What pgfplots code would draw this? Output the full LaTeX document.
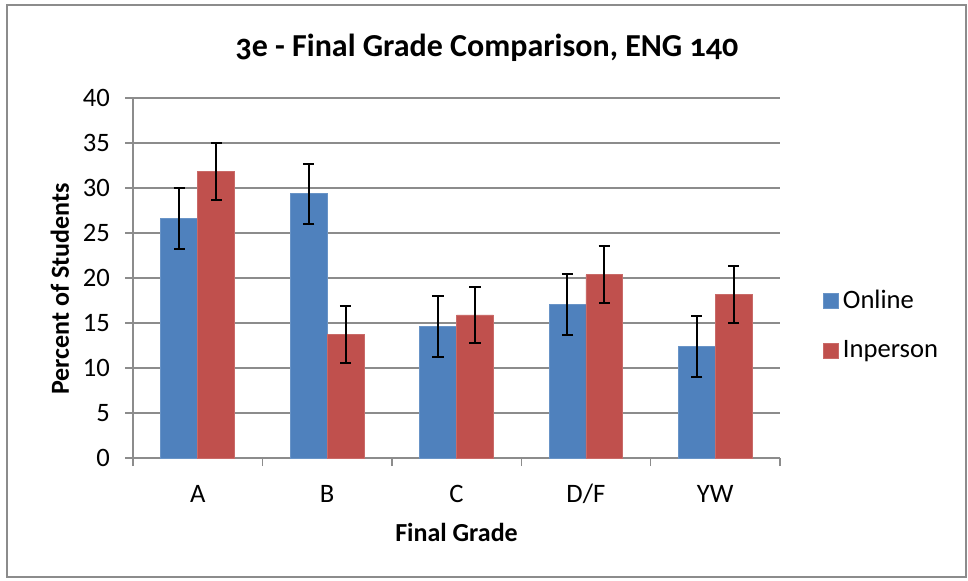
\documentclass[border=0pt]{standalone}
\usepackage{fontspec}
\setmainfont{Carlito}
\usepackage{pgfplots}
\usepackage{pgfplotstable}
\pgfplotsset{compat=1.18}
\definecolor{onl}{HTML}{4F81BD}
\definecolor{inp}{HTML}{C0504D}
\definecolor{gridc}{HTML}{8C8C8C}
\pgfplotstableread{
xo xi on onerr in inerr
-0.1425 0.1425 26.6 3.37 31.8 3.18
0.8575 1.1425 29.35 3.35 13.7 3.15
1.8575 2.1425 14.65 3.39 15.9 3.15
2.8575 3.1425 17.05 3.37 20.35 3.17
3.8575 4.1425 12.35 3.39 18.15 3.15
}\data
\begin{document}
\begin{tikzpicture}
\path (0,0) rectangle (484pt,290pt);
\draw[gridc, line width=0.6pt] (3.5pt,1.5pt) rectangle (483pt,287.5pt);
\begin{axis}[
  at={(66.5pt,61pt)}, anchor=south west,
  scale only axis, width=323.5pt, height=180pt,
  xmin=-0.5, xmax=4.5, ymin=0, ymax=40,
  axis x line*=bottom, axis y line*=left,
  axis line style={gridc, line width=0.7pt, -},
  xtick={0,1,2,3,4},
  xticklabels={A,B,C,D/F,YW},
  major x tick style={draw=none},
  minor xtick={-0.5,0.5,1.5,2.5,3.5,4.5},
  minor x tick style={gridc, line width=0.7pt},
  minor tick length=4pt,
  ytick={0,5,...,40},
  major y tick style={gridc, line width=0.7pt},
  major tick length=4pt,
  tick align=outside,
  ymajorgrids, grid style={gridc, line width=0.7pt},
  /pgf/number format/assume math mode=true,
  ticklabel style={font=\fontsize{13.3}{15}\selectfont},
  yticklabel style={xshift=-4pt},
  xticklabel style={anchor=base, yshift=-18pt},
  title={\textbf{\addfontfeatures{Numbers=OldStyle}3e - Final Grade Comparison, ENG 140}},
  title style={font=\fontsize{16}{19}\selectfont, at={(axis description cs:0.547,1.106)}, anchor=center},
  xlabel={\textbf{Final Grade}},
  xlabel style={font=\fontsize{13}{15}\selectfont, at={(axis description cs:0.5,-0.208)}, anchor=center},
  ylabel={\textbf{Percent of Students}},
  ylabel style={font=\fontsize{13}{15}\selectfont, at={(axis description cs:-0.113,0.47)}, anchor=center},
  legend style={draw=none, fill=none, at={(axis description cs:1.066,0.478)}, anchor=north west,
    font=\fontsize{13.3}{15}\selectfont, row sep=10.5pt, inner sep=0pt},
  legend cell align=left,
  legend image code/.code={\fill[#1] (0pt,-3.75pt) rectangle (7.5pt,3.75pt);},
  error bars/error bar style={black, line width=1pt},
  error bars/error mark options={black, rotate=90, mark size=2.8pt, line width=1pt},
]
\addplot[ybar, bar width=0.285, bar shift=0, fill=onl, draw=onl!85!white,
  error bars/.cd, y dir=both, y explicit]
  table[x=xo, y=on, y error=onerr] {\data};
\addlegendentry{Online}
\addplot[ybar, bar width=0.285, bar shift=0, fill=inp, draw=inp!85!white,
  error bars/.cd, y dir=both, y explicit]
  table[x=xi, y=in, y error=inerr] {\data};
\addlegendentry{Inperson}
\end{axis}
\end{tikzpicture}
\end{document}
